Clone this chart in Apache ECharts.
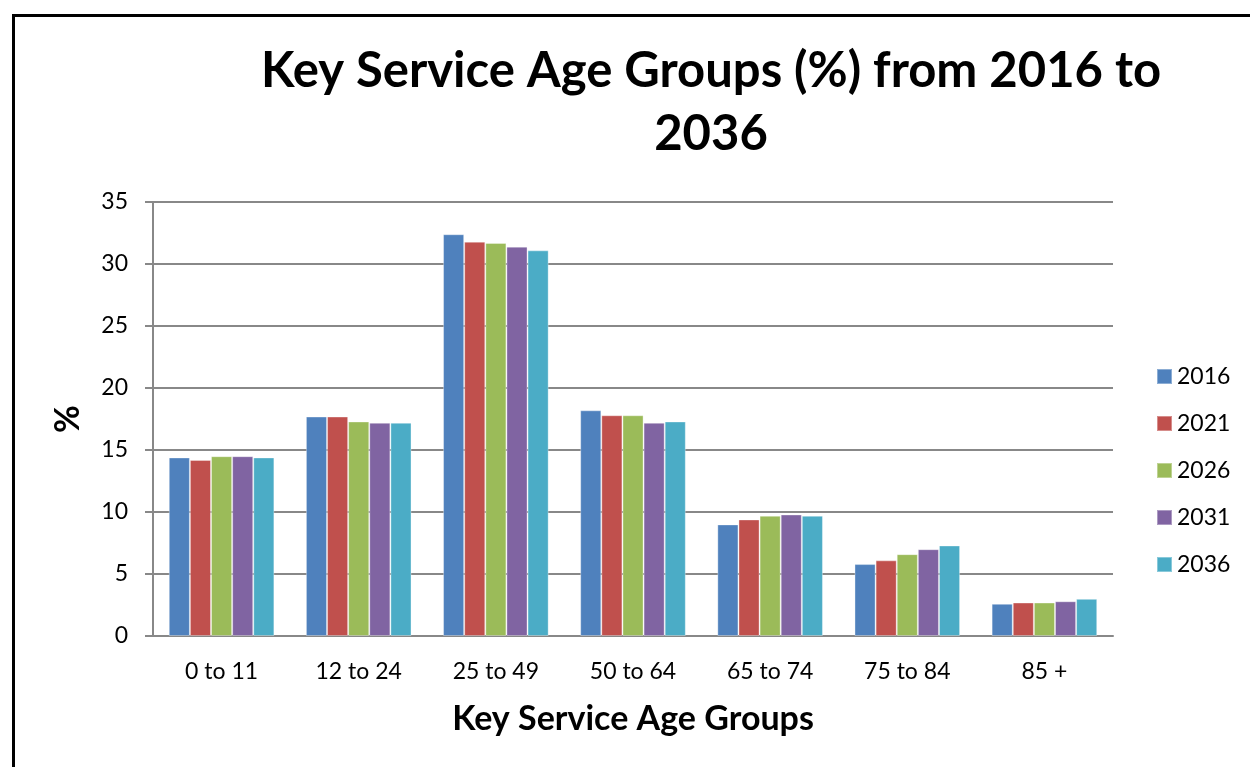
<!DOCTYPE html>
<html>
<head>
<meta charset="utf-8">
<script src="https://cdn.jsdelivr.net/npm/echarts@6/dist/echarts.min.js"></script>
<style>html,body{margin:0;padding:0;background:#fff;}#c{width:1250px;height:767px;}</style>
</head>
<body>
<div id="c"></div>
<script>
const categories = ['0 to 11', '12 to 24', '25 to 49', '50 to 64', '65 to 74', '75 to 84', '85 +'];
const years = ['2016', '2021', '2026', '2031', '2036'];
const v2016 = [14.4, 17.7, 32.4, 18.2, 9.0, 5.8, 2.6];
const v2021 = [14.2, 17.7, 31.8, 17.8, 9.4, 6.1, 2.7];
const v2026 = [14.5, 17.3, 31.7, 17.8, 9.7, 6.6, 2.7];
const v2031 = [14.5, 17.2, 31.4, 17.2, 9.8, 7.0, 2.8];
const v2036 = [14.4, 17.2, 31.1, 17.3, 9.7, 7.3, 3.0];
const yTicks = [0, 5, 10, 15, 20, 25, 30, 35];
const colors = ['#4F81BD', '#C0504D', '#9BBB59', '#8064A2', '#4BACC6'];
const seriesValues = [v2016, v2021, v2026, v2031, v2036];

const FONT = 'Lato';
const chart = echarts.init(document.getElementById('c'), null, {renderer: 'canvas'});
chart.setOption({
  animation: false,
  backgroundColor: '#ffffff',
  textStyle: {fontFamily: FONT},
  graphic: [{
    type: 'rect',
    shape: {x: 13.5, y: 15.5, width: 1400, height: 900},
    style: {fill: 'none', stroke: '#000', lineWidth: 3},
    z: 100
  }],
  title: {
    text: 'Key Service Age Groups (%) from 2016 to\n2036',
    left: 706,
    textAlign: 'center',
    top: 35,
    textStyle: {fontFamily: FONT, fontWeight: 'bold', fontSize: 49, lineHeight: 63, color: '#000'}
  },
  legend: {
    orient: 'vertical',
    left: 1156,
    top: 365,
    padding: 0,
    itemWidth: 15,
    itemHeight: 15,
    itemGap: 24,
    icon: 'rect',
    textStyle: {fontFamily: FONT, fontSize: 23, color: '#000'},
    data: years
  },
  grid: {left: 153, right: 137, top: 202, bottom: 131, containLabel: false},
  xAxis: {
    type: 'category',
    data: categories,
    name: 'Key Service Age Groups',
    nameLocation: 'middle',
    nameGap: 66,
    nameTextStyle: {fontFamily: FONT, fontWeight: 'bold', fontSize: 34, color: '#000'},
    axisLine: {lineStyle: {color: '#888', width: 2}},
    axisTick: {show: false},
    axisLabel: {fontFamily: FONT, fontSize: 23, color: '#000', margin: 24}
  },
  yAxis: {
    type: 'value',
    min: yTicks[0],
    max: yTicks[yTicks.length - 1],
    interval: 5,
    name: '%',
    nameLocation: 'middle',
    nameGap: 68,
    nameRotate: 90,
    nameTextStyle: {fontFamily: FONT, fontWeight: 'bold', fontSize: 34, color: '#000'},
    axisLine: {show: true, lineStyle: {color: '#888', width: 2}},
    axisTick: {show: true, length: 8, lineStyle: {color: '#888', width: 2}},
    splitLine: {lineStyle: {color: '#888', width: 2}},
    axisLabel: {fontFamily: FONT, fontSize: 23, color: '#000', margin: 25}
  },
  series: years.map((y, i) => ({
    name: y,
    type: 'bar',
    data: seriesValues[i],
    barGap: '0%',
    barCategoryGap: '23%',
    itemStyle: {color: colors[i], borderColor: 'rgba(255,255,255,0.35)', borderWidth: 1}
  }))
});
</script>
</body>
</html>
